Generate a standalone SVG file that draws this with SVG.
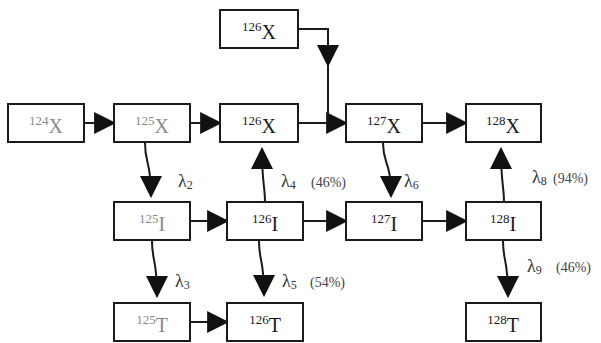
<svg xmlns="http://www.w3.org/2000/svg" width="601" height="343" viewBox="0 0 601 343">
<style>
  .box { fill: #ffffff; stroke: #1a1a1a; stroke-width: 2; }
  .lbl { font-family: "Liberation Serif", "DejaVu Serif", serif; fill: #1a1a1a; text-anchor: middle; }
  .lbl.grey { fill: #8a8a8a; }
  .sup { font-size: 13px; }
  .main { font-size: 20px; }
  .conn { fill: none; stroke: #1a1a1a; stroke-width: 2; }
  .lam { font-family: "Liberation Serif", "DejaVu Serif", serif; font-size: 18px; fill: #333333; }
  .sub { font-size: 12px; }
  .pct { font-family: "Liberation Serif", "DejaVu Serif", serif; font-size: 14px; fill: #444444; }
</style>
<defs>
  <marker id="ah" markerUnits="userSpaceOnUse" markerWidth="22" markerHeight="22" refX="19" refY="10.5" orient="auto" viewBox="0 0 21 21">
    <path d="M0,0 L21,10.5 L0,21 Z" fill="#111111"/>
  </marker>
</defs>
<rect width="601" height="343" fill="#ffffff"/>

<g id="connectors">
  <path class="conn" d="M84,123 H114" marker-end="url(#ah)"/>
  <path class="conn" d="M190,123 H220" marker-end="url(#ah)"/>
  <path class="conn" d="M298,123 H346" marker-end="url(#ah)"/>
  <path class="conn" d="M422,123 H466" marker-end="url(#ah)"/>
  <path class="conn" d="M298,29 H328 V65" marker-end="url(#ah)"/>
  <path class="conn" d="M328,64 V123"/>
  <path class="conn" d="M190,221 H227" marker-end="url(#ah)"/>
  <path class="conn" d="M303,221 H346" marker-end="url(#ah)"/>
  <path class="conn" d="M422,221 H466" marker-end="url(#ah)"/>
  <path class="conn" d="M190,322 H227" marker-end="url(#ah)"/>
  <path class="conn" d="M145,143 C145,165 151,160 151,196" marker-end="url(#ah)"/>
  <path class="conn" d="M152,241 C152,262 157,258 157,296" marker-end="url(#ah)"/>
  <path class="conn" d="M265,202 C265,185 262,185 262,149" marker-end="url(#ah)"/>
  <path class="conn" d="M259,241 C259,262 264,258 264,295" marker-end="url(#ah)"/>
  <path class="conn" d="M383,143 C383,165 391,160 391,196" marker-end="url(#ah)"/>
  <path class="conn" d="M504,202 C504,185 501,185 501,149" marker-end="url(#ah)"/>
  <path class="conn" d="M503,241 C503,262 508,258 508,296" marker-end="url(#ah)"/>
</g>

<g id="labels">
  <text class="lam" x="178" y="187">λ<tspan class="sub" dy="2">2</tspan></text>
  <text class="lam" x="175" y="287">λ<tspan class="sub" dy="2">3</tspan></text>
  <text class="lam" x="281" y="187">λ<tspan class="sub" dy="2">4</tspan></text>
  <text class="pct" x="311" y="187">(46%)</text>
  <text class="lam" x="282" y="287">λ<tspan class="sub" dy="2">5</tspan></text>
  <text class="pct" x="310" y="287">(54%)</text>
  <text class="lam" x="404" y="187">λ<tspan class="sub" dy="2">6</tspan></text>
  <text class="lam" x="532" y="183">λ<tspan class="sub" dy="2">8</tspan></text>
  <text class="pct" x="553" y="183">(94%)</text>
  <text class="lam" x="527" y="272">λ<tspan class="sub" dy="2">9</tspan></text>
  <text class="pct" x="556" y="272">(46%)</text>
</g>

<g id="n126X_top"><rect class="box" x="220" y="10" width="78" height="38"/>
  <text class="lbl" x="259" y="39"><tspan class="sup" dy="-8">126</tspan><tspan class="main" dy="8">X</tspan></text></g>
<g id="n124X"><rect class="box" x="8" y="104" width="76" height="38"/>
  <text class="lbl grey" x="46" y="133"><tspan class="sup" dy="-8">124</tspan><tspan class="main" dy="8">X</tspan></text></g>
<g id="n125X"><rect class="box" x="114" y="104" width="76" height="38"/>
  <text class="lbl grey" x="152" y="133"><tspan class="sup" dy="-8">125</tspan><tspan class="main" dy="8">X</tspan></text></g>
<g id="n126X"><rect class="box" x="220" y="104" width="78" height="38"/>
  <text class="lbl" x="259" y="133"><tspan class="sup" dy="-8">126</tspan><tspan class="main" dy="8">X</tspan></text></g>
<g id="n127X"><rect class="box" x="346" y="104" width="76" height="38"/>
  <text class="lbl" x="384" y="133"><tspan class="sup" dy="-8">127</tspan><tspan class="main" dy="8">X</tspan></text></g>
<g id="n128X"><rect class="box" x="466" y="104" width="75" height="38"/>
  <text class="lbl" x="503" y="133"><tspan class="sup" dy="-8">128</tspan><tspan class="main" dy="8">X</tspan></text></g>

<g id="n125I"><rect class="box" x="114" y="202" width="76" height="38"/>
  <text class="lbl grey" x="152" y="231"><tspan class="sup" dy="-8">125</tspan><tspan class="main" dy="8">I</tspan></text></g>
<g id="n126I"><rect class="box" x="227" y="202" width="76" height="38"/>
  <text class="lbl" x="265" y="231"><tspan class="sup" dy="-8">126</tspan><tspan class="main" dy="8">I</tspan></text></g>
<g id="n127I"><rect class="box" x="346" y="202" width="76" height="38"/>
  <text class="lbl" x="384" y="231"><tspan class="sup" dy="-8">127</tspan><tspan class="main" dy="8">I</tspan></text></g>
<g id="n128I"><rect class="box" x="466" y="202" width="75" height="38"/>
  <text class="lbl" x="503" y="231"><tspan class="sup" dy="-8">128</tspan><tspan class="main" dy="8">I</tspan></text></g>

<g id="n125T"><rect class="box" x="114" y="303" width="76" height="38"/>
  <text class="lbl grey" x="152" y="332"><tspan class="sup" dy="-8">125</tspan><tspan class="main" dy="8">T</tspan></text></g>
<g id="n126T"><rect class="box" x="227" y="303" width="76" height="38"/>
  <text class="lbl" x="265" y="332"><tspan class="sup" dy="-8">126</tspan><tspan class="main" dy="8">T</tspan></text></g>
<g id="n128T"><rect class="box" x="466" y="303" width="75" height="38"/>
  <text class="lbl" x="503" y="332"><tspan class="sup" dy="-8">128</tspan><tspan class="main" dy="8">T</tspan></text></g>
</svg>
